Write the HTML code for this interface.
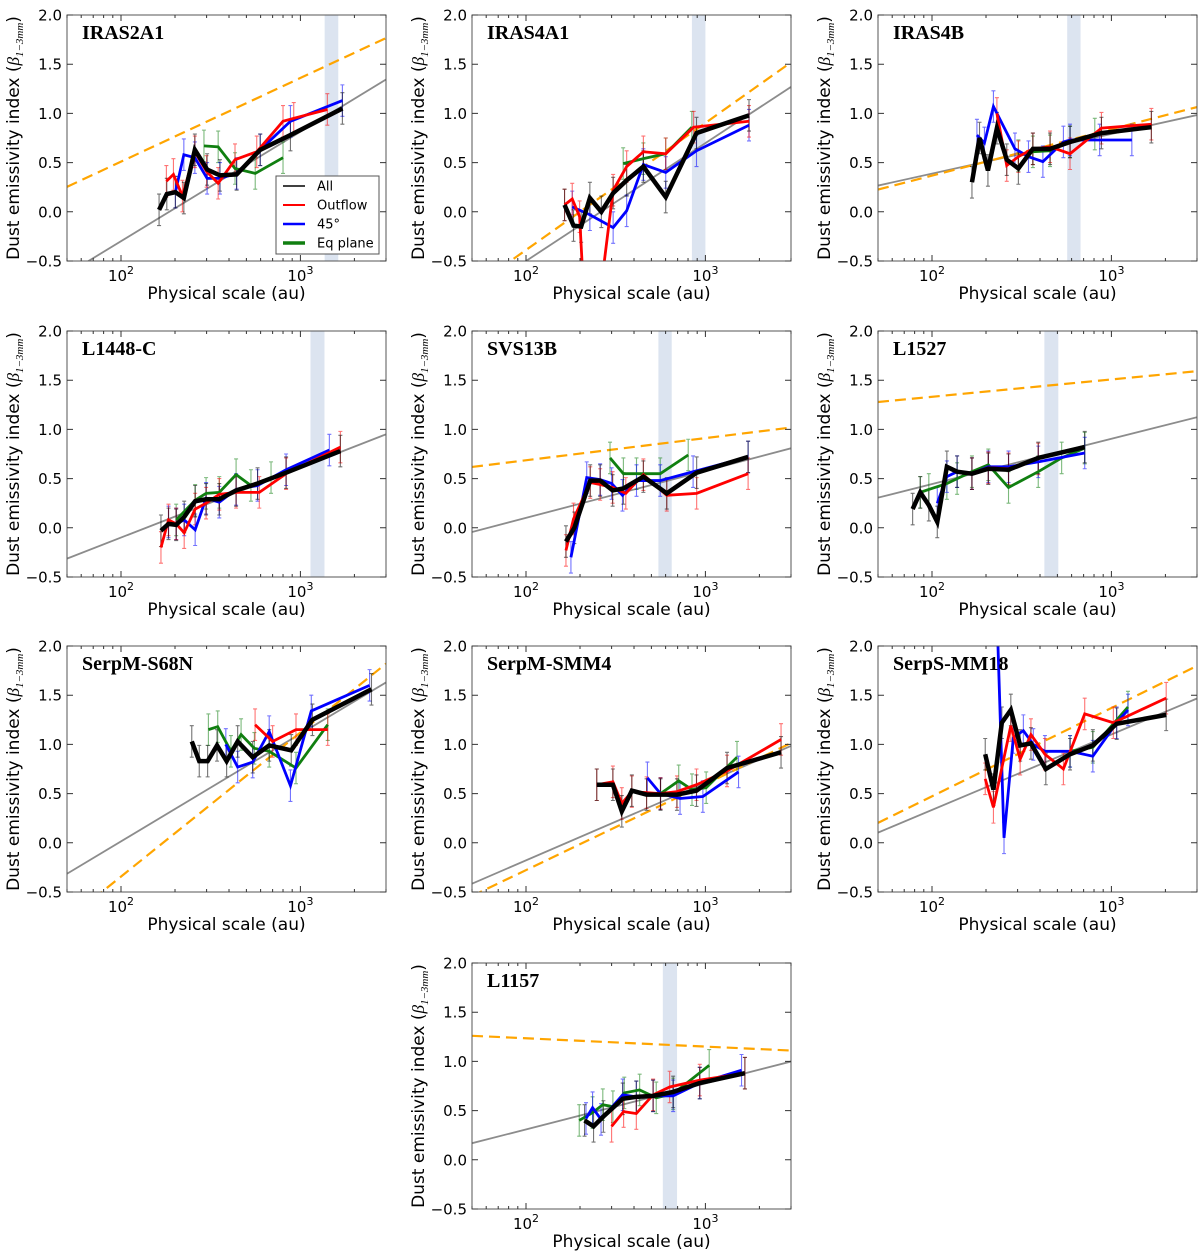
<!DOCTYPE html>
<html><head><meta charset="utf-8"><style>
html,body{margin:0;padding:0;background:#fff;}
svg{display:block;font-family:"DejaVu Sans","Liberation Sans",sans-serif;}
</style></head><body>
<svg id="fig" width="1200" height="1254" viewBox="0 0 1200 1254" xmlns="http://www.w3.org/2000/svg"></svg>
<script>
// ---------------- data (au, beta) ----------------
const IRAS2A1_all=[[163,0.02],[180,0.18],[201,0.20],[224,0.14],[258,0.63],[302,0.43],[356,0.37],[441,0.38],[597,0.63],[880,0.78],[1714,1.05]];
const IRAS2A1_out=[[179,0.31],[196,0.38],[220,0.16],[258,0.61],[300,0.41],[348,0.29],[432,0.53],[571,0.61],[800,0.92],[918,0.95],[1413,1.04]];
const IRAS2A1_45=[[201,0.20],[224,0.58],[258,0.55],[302,0.34],[356,0.34],[441,0.39],[597,0.63],[880,0.92],[1714,1.13]];
const IRAS2A1_eq=[[290,0.67],[348,0.66],[432,0.44],[560,0.39],[800,0.55]];
const IRAS4A1_all=[[164,0.07],[184,-0.14],[203,-0.15],[227,0.14],[263,0.0],[306,0.19],[364,0.32],[451,0.46],[601,0.15],[892,0.80],[1750,0.98]];
const IRAS4A1_out=[[164,0.07],[181,0.13],[199,-0.05],[215,-1.2],[245,-1.2],[306,0.22],[364,0.46],[451,0.61],[601,0.59],[860,0.86],[1750,0.92]];
const IRAS4A1_45=[[181,0.05],[227,-0.03],[306,-0.16],[364,0.01],[451,0.48],[601,0.40],[892,0.62],[1750,0.88]];
const IRAS4A1_eq=[[348,0.49],[451,0.54],[601,0.59],[840,0.86]];
const IRAS4B_all=[[167,0.30],[184,0.75],[205,0.42],[230,0.85],[261,0.53],[303,0.44],[365,0.64],[455,0.64],[588,0.71],[880,0.80],[1670,0.86]];
const IRAS4B_out=[[230,1.0],[261,0.47],[303,0.56],[365,0.64],[455,0.66],[588,0.59],[880,0.85],[1670,0.89]];
const IRAS4B_45=[[178,0.78],[196,0.70],[220,1.07],[290,0.64],[345,0.56],[415,0.51],[540,0.71],[588,0.73],[860,0.73],[1300,0.73]];
const IRAS4B_eq=[[303,0.57],[365,0.61],[455,0.62],[588,0.71],[808,0.79]];
const L1448C_all=[[167,-0.03],[184,0.04],[203,0.03],[225,0.11],[259,0.27],[298,0.29],[353,0.29],[438,0.38],[577,0.45],[832,0.56],[1670,0.78]];
const L1448C_out=[[167,-0.20],[184,0.08],[203,0.04],[225,-0.05],[259,0.19],[298,0.25],[353,0.34],[438,0.36],[590,0.36],[832,0.55],[1670,0.82]];
const L1448C_45=[[184,0.06],[203,0.04],[225,0.08],[259,-0.02],[298,0.30],[353,0.26],[438,0.39],[577,0.43],[832,0.59],[1450,0.79]];
const L1448C_eq=[[203,0.08],[259,0.28],[298,0.35],[353,0.36],[438,0.54],[530,0.43],[686,0.51]];
const SVS13B_all=[[167,-0.14],[186,0.0],[228,0.48],[259,0.48],[304,0.38],[349,0.40],[451,0.52],[609,0.35],[894,0.56],[1730,0.72]];
const SVS13B_out=[[167,-0.23],[184,0.09],[228,0.46],[259,0.44],[304,0.41],[360,0.35],[451,0.54],[609,0.33],[894,0.35],[1730,0.55]];
const SVS13B_45=[[178,-0.30],[218,0.51],[259,0.49],[300,0.45],[345,0.33],[413,0.48],[560,0.48],[854,0.57],[1730,0.72]];
const SVS13B_eq=[[294,0.71],[349,0.55],[413,0.55],[560,0.55],[802,0.74]];
const L1527_all=[[78,0.19],[86,0.36],[96,0.23],[107,0.06],[121,0.62],[138,0.57],[167,0.55],[206,0.60],[267,0.59],[391,0.71],[710,0.82]];
const L1527_out=[[167,0.55],[206,0.61],[267,0.60],[391,0.70]];
const L1527_45=[[107,0.25],[121,0.52],[138,0.57],[167,0.55],[206,0.62],[267,0.62],[391,0.67],[710,0.76]];
const L1527_eq=[[86,0.36],[96,0.39],[121,0.45],[138,0.50],[167,0.57],[206,0.64],[267,0.41],[391,0.57],[528,0.71],[710,0.81]];
const S68N_all=[[248,1.03],[273,0.83],[304,0.83],[343,0.99],[388,0.83],[447,1.03],[542,0.87],[670,0.99],[889,0.94],[1167,1.25],[2490,1.56]];
const S68N_out=[[559,1.20],[700,1.03],[945,1.15],[1420,1.15]];
const S68N_45=[[384,1.0],[447,0.77],[542,0.82],[670,1.13],[880,0.58],[1150,1.34],[2430,1.60]];
const S68N_eq=[[307,1.15],[346,1.18],[410,0.93],[467,1.10],[554,0.96],[670,0.93],[945,0.76],[1420,1.20]];
const SMM4_all=[[248,0.59],[305,0.59],[342,0.32],[389,0.53],[470,0.49],[562,0.49],[694,0.49],[892,0.53],[1320,0.76],[2640,0.92]];
const SMM4_out=[[248,0.59],[305,0.62],[342,0.40],[389,0.52],[470,0.51],[562,0.50],[694,0.52],[892,0.59],[1320,0.73],[2640,1.05]];
const SMM4_45=[[475,0.66],[562,0.50],[722,0.45],[968,0.47],[1530,0.72]];
const SMM4_eq=[[562,0.50],[710,0.63],[842,0.54],[1010,0.56],[1500,0.87]];
const MM18_all=[[198,0.90],[220,0.54],[245,1.22],[275,1.35],[310,0.99],[356,1.01],[431,0.75],[588,0.90],[788,0.99],[1070,1.21],[2020,1.30]];
const MM18_out=[[198,0.65],[220,0.36],[275,1.19],[310,0.85],[356,1.10],[426,0.90],[540,0.75],[710,1.31],[1025,1.22],[2020,1.47]];
const MM18_45=[[225,2.9],[252,0.05],[284,1.07],[323,1.14],[367,1.0],[426,0.93],[588,0.93],[788,0.88],[1070,1.22],[1237,1.35]];
const MM18_eq=[[588,0.93],[788,0.97],[1237,1.38]];
const L1157_all=[[212,0.40],[238,0.34],[270,0.44],[346,0.62],[412,0.64],[511,0.65],[661,0.69],[930,0.78],[1660,0.88]];
const L1157_out=[[300,0.34],[350,0.49],[412,0.47],[511,0.66],[632,0.74],[930,0.81],[1660,0.88]];
const L1157_45=[[216,0.42],[235,0.53],[262,0.41],[346,0.66],[412,0.64],[511,0.65],[661,0.65],[930,0.78],[1590,0.91]];
const L1157_eq=[[198,0.40],[235,0.48],[268,0.56],[305,0.54],[353,0.68],[430,0.71],[532,0.63],[661,0.67],[1050,0.96]];
const errBar=0.16;
const yTicks=[-0.5,0.0,0.5,1.0,1.5,2.0];
const yTickLabels=["\u22120.5","0.0","0.5","1.0","1.5","2.0"];
const xMajor=[100,1000];
const xMinor=[50,60,70,80,90,200,300,400,500,600,700,800,900,2000,3000];
const xMin=50, xMax=3000, yMin=-0.5, yMax=2.0;

// panel layout (not data)
const panels=[
 {name:"IRAS2A1",L:67,T:15,all:IRAS2A1_all,out:IRAS2A1_out,p45:IRAS2A1_45,eq:IRAS2A1_eq,gray:[[65.9,-0.5],[3034,1.35]],orange:[[49.5,0.25],[3034,1.77]],band:[1365,1626],legend:true},
 {name:"IRAS4A1",L:472,T:15,all:IRAS4A1_all,out:IRAS4A1_out,p45:IRAS4A1_45,eq:IRAS4A1_eq,gray:[[100,-0.5],[3060,1.28]],orange:[[88,-0.46],[3060,1.53]],band:[841,1000]},
 {name:"IRAS4B",L:878,T:15,all:IRAS4B_all,out:IRAS4B_out,p45:IRAS4B_45,eq:IRAS4B_eq,gray:[[51,0.27],[2940,0.98]],orange:[[51,0.23],[2940,1.06]],band:[567,673]},
 {name:"L1448-C",L:67,T:331,all:L1448C_all,out:L1448C_out,p45:L1448C_45,eq:L1448C_eq,gray:[[50.5,-0.31],[3000,0.95]],orange:null,band:[1138,1362]},
 {name:"SVS13B",L:472,T:331,all:SVS13B_all,out:SVS13B_out,p45:SVS13B_45,eq:SVS13B_eq,gray:[[50.8,-0.04],[3030,0.81]],orange:[[50.8,0.62],[3030,1.02]],band:[547,649]},
 {name:"L1527",L:878,T:331,all:L1527_all,out:L1527_out,p45:L1527_45,eq:L1527_eq,gray:[[51,0.31],[2940,1.12]],orange:[[51,1.28],[2940,1.59]],band:[423,506]},
 {name:"SerpM-S68N",L:67,T:646,all:S68N_all,out:S68N_out,p45:S68N_45,eq:S68N_eq,gray:[[50.5,-0.31],[3000,1.63]],orange:[[75.7,-0.52],[3000,1.82]],band:null},
 {name:"SerpM-SMM4",L:472,T:646,all:SMM4_all,out:SMM4_out,p45:SMM4_45,eq:SMM4_eq,gray:[[50.8,-0.41],[3050,0.99]],orange:[[54.2,-0.51],[3050,1.02]],band:null},
 {name:"SerpS-MM18",L:878,T:646,all:MM18_all,out:MM18_out,p45:MM18_45,eq:MM18_eq,gray:[[51,0.11],[2940,1.46]],orange:[[51,0.21],[2940,1.79]],band:null},
 {name:"L1157",L:472,T:963,all:L1157_all,out:L1157_out,p45:L1157_45,eq:L1157_eq,gray:[[50.4,0.17],[3020,1.0]],orange:[[50.4,1.26],[3020,1.11]],band:[579,695]}
];
const W=319,H=246;
const NS="http://www.w3.org/2000/svg";
const svg=document.getElementById('fig');
function mk(tag,attrs,parent){const e=document.createElementNS(NS,tag);for(const k in attrs)e.setAttribute(k,attrs[k]);(parent||svg).appendChild(e);return e;}
const lg=Math.log10;
panels.forEach((p,i)=>{
  const xs=v=>p.L+(lg(v)-lg(xMin))/(lg(xMax)-lg(xMin))*W;
  const ys=v=>p.T+(yMax-v)/(yMax-yMin)*H;
  const slug=p.name.toLowerCase();
  const g=mk('g',{});
  
  
  const cp=mk('clipPath',{id:'c'+i},g);
  mk('rect',{x:p.L,y:p.T,width:W,height:H},cp);
  const plot=mk('g',{'clip-path':'url(#c'+i+')'},g);
  if(p.band){const r=mk('rect',{x:xs(p.band[0]),y:p.T,width:xs(p.band[1])-xs(p.band[0]),height:H,fill:'#dce4f0'},plot);
    
    }
  function fitLine(pts,attrs,nm){
    const [a,b]=pts;const s=(b[1]-a[1])/(lg(b[0])-lg(a[0]));
    const y0=a[1]+s*(lg(xMin)-lg(a[0])), y1=a[1]+s*(lg(xMax)-lg(a[0]));
    const l=mk('line',Object.assign({x1:xs(xMin),y1:ys(y0),x2:xs(xMax),y2:ys(y1)},attrs),plot);
    
    
  }
  fitLine(p.gray,{stroke:'#8c8c8c','stroke-width':1.8},'fit-line');
  if(p.orange)fitLine(p.orange,{stroke:'#ffa500','stroke-width':2.2,'stroke-dasharray':'11,6'},'model-line');
  const series=[[p.eq,'#107f10',2.8,'eq-plane'],[p.p45,'#0000ff',2.8,'45-deg'],[p.out,'#ff0000',2.8,'outflow'],[p.all,'#000000',4.5,'all']];
  series.forEach(([d,c])=>{
    d.forEach(([x,y])=>{
      const X=xs(x),y1=ys(y-errBar),y2=ys(y+errBar);
      const e=mk('path',{d:`M${X},${y1}V${y2}M${X-2},${y1}H${X+2}M${X-2},${y2}H${X+2}`,stroke:c,'stroke-width':1.1,'stroke-opacity':0.55,fill:'none'},plot);
      
      
    });
  });
  series.forEach(([d,c,w,nm])=>{
    const pl=mk('polyline',{points:d.map(([x,y])=>xs(x)+','+ys(y)).join(' '),fill:'none',stroke:c,'stroke-width':w,'stroke-linejoin':'miter'},plot);
    
    
  });
  const fr=mk('rect',{x:p.L,y:p.T,width:W,height:H,fill:'none',stroke:'#555','stroke-width':1},g);
  
  
  // y ticks
  yTicks.forEach((v,k)=>{
    const Y=ys(v);
    mk('path',{d:`M${p.L},${Y}h6M${p.L+W},${Y}h-6`,stroke:'#333','stroke-width':1},g);
    const t=mk('text',{x:p.L-5,y:Y+5.5,'text-anchor':'end','font-size':15,fill:'#000'},g);
    t.textContent=yTickLabels[k];
    
    
  });
  xMinor.forEach(v=>{const X=xs(v);mk('path',{d:`M${X},${p.T+H}v-3M${X},${p.T}v3`,stroke:'#333','stroke-width':1},g);});
  xMajor.forEach(v=>{
    const X=xs(v);
    mk('path',{d:`M${X},${p.T+H}v-6M${X},${p.T}v6`,stroke:'#333','stroke-width':1},g);
    const t=mk('text',{x:X,y:p.T+H+20,'text-anchor':'middle','font-size':15,fill:'#000'},g);
    
    
    t.textContent='10';
    const sp=mk('tspan',{dy:-7,'font-size':11},t);sp.textContent=String(Math.round(lg(v)));
  });
  const xl=mk('text',{x:p.L+W/2,y:p.T+H+38,'text-anchor':'middle','font-size':17,fill:'#000'},g);
  xl.textContent='Physical scale (au)';
  
  
  const yl=mk('text',{x:0,y:0,'text-anchor':'middle','font-size':17,fill:'#000',transform:`translate(${p.L-48},${p.T+H/2}) rotate(-90)`},g);
  
  
  yl.textContent='Dust emissivity index (';
  const b=mk('tspan',{'font-style':'italic','font-family':'Liberation Serif,serif'},yl);b.textContent='\u03b2';
  const bs=mk('tspan',{dy:4,'font-size':11,'font-style':'italic','font-family':'Liberation Serif,serif'},yl);bs.textContent='1\u22123mm';
  const cl=mk('tspan',{dy:-4},yl);cl.textContent=')';
  const ti=mk('text',{x:p.L+15,y:p.T+24,'font-size':20,'font-weight':'bold','font-family':'Liberation Serif,serif',fill:'#000'},g);
  ti.textContent=p.name;
  
  
  if(p.legend){
    const lgd=mk('g',{},g);
    
    
    mk('rect',{x:p.L+209,y:p.T+161,width:103,height:78,fill:'#fff',stroke:'#555','stroke-width':1},lgd);
    [['All','#000',1.5],['Outflow','#ff0000',2],['45\u00b0','#0000ff',2.5],['Eq plane','#107f10',3.5]].forEach(([lab,c,w],k)=>{
      const Y=p.T+171+k*19;
      const en=mk('g',{},lgd);
      
      
      mk('line',{x1:p.L+216,y1:Y,x2:p.L+238,y2:Y,stroke:c,'stroke-width':w},en);
      const t=mk('text',{x:p.L+250,y:Y+4.5,'font-size':13,fill:'#000'},en);t.textContent=lab;
    });
  }
});
</script>
</body></html>
